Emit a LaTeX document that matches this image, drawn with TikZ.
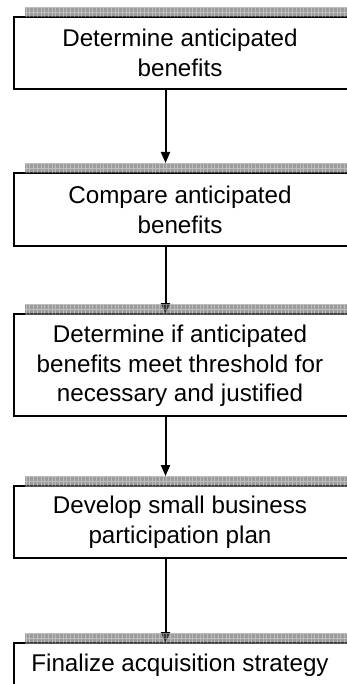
\documentclass[tikz,border=0pt]{standalone}
\usepackage{fontspec}
\setmainfont{Liberation Sans}
\usetikzlibrary{arrows.meta}
\definecolor{bandfill}{HTML}{5A5A5A}
\tikzset{
  stepbox/.style={draw=black, line width=1.7pt, fill=white, minimum width=346pt,
    inner sep=0pt, outer sep=0pt, anchor=north west},
  shadowband/.style={fill=bandfill, fill opacity=0.6, minimum width=335pt, minimum height=10pt,
    inner sep=0pt, outer sep=0pt, anchor=south west,
    path picture={\draw[white, draw opacity=0.34, line width=0.6pt, xstep=3.7pt, ystep=5pt]
      (path picture bounding box.south west) grid (path picture bounding box.north east);}},
  steptext/.style={align=center, font=\fontsize{24.2}{29.5}\selectfont},
  flow/.style={line width=2pt, -{Triangle[length=11pt,width=9pt]}}
}
\begin{document}
\begin{tikzpicture}[x=1pt,y=-1pt]
  \useasboundingbox (0,0) rectangle (347,684);
  \clip (0,0) rectangle (347,684);
  % boxes
  \node[stepbox, minimum height=72pt] (b1) at (14,17) {};
  \node[stepbox, minimum height=73pt] (b2) at (14,173) {};
  \node[stepbox, minimum height=102pt] (b3) at (14,314) {};
  \node[stepbox, minimum height=72pt] (b4) at (14,486) {};
  \node[stepbox, minimum height=60pt] (b5) at (14,643) {};
  % texts
  \node[steptext] (t1) at (180,53) {Determine anticipated\\benefits};
  \node[steptext] (t2) at (180,210) {Compare anticipated\\benefits};
  \node[steptext] (t3) at (180,366) {Determine if anticipated\\benefits meet threshold for\\necessary and justified};
  \node[steptext] (t4) at (180,522) {Develop small business\\participation plan};
  \node[steptext] (t5) at (180,665) {Finalize acquisition strategy};
  % connectors
  \coordinate (ax) at (165.5,0);
  \draw[flow] (ax |- b1.south) -- ([yshift=10pt]ax |- b2.north);
  \draw[flow] (ax |- b2.south) -- (ax |- b3.north);
  \draw[flow] (ax |- b3.south) -- ([yshift=10pt]ax |- b4.north);
  \draw[flow] (ax |- b4.south) -- (ax |- b5.north);
  % shadow bands
  \node[shadowband] (s1) at (25,17) {};
  \node[shadowband] (s2) at (25,173) {};
  \node[shadowband] (s3) at (25,314) {};
  \node[shadowband] (s4) at (25,486) {};
  \node[shadowband] (s5) at (25,643) {};
\end{tikzpicture}
\end{document}
